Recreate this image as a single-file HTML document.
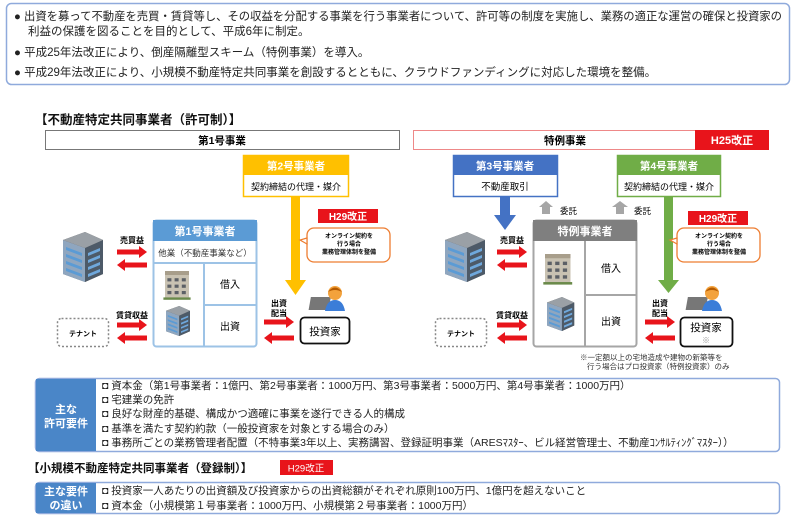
<!DOCTYPE html>
<html><head><meta charset="utf-8"><style>
html,body{margin:0;padding:0;background:#fff;width:800px;height:517px;overflow:hidden}
svg text{font-family:"Liberation Sans","Noto Sans CJK JP",sans-serif}
</style></head><body>
<svg width="800" height="517" viewBox="0 0 800 517" xmlns="http://www.w3.org/2000/svg">
<defs>
<g id="bld">
 <polygon points="0,8 22,0 40,8 40,42 22,50 0,42" fill="#555"/>
 <polygon points="0,8 22,16 22,50 0,42" fill="#8fa6bf"/>
 <polygon points="22,16 40,8 40,42 22,50" fill="#4d5a68"/>
 <polygon points="0,8 22,0 40,8 22,16" fill="#9aa0a6"/>
 <g fill="#5b9bd5"><polygon points="3,15 19,21 19,24 3,18"/><polygon points="3,22 19,28 19,31 3,25"/><polygon points="3,29 19,35 19,38 3,32"/><polygon points="3,36 19,42 19,45 3,39"/></g>
 <g fill="#6fa8dc"><polygon points="25,21 37,16 37,19 25,24"/><polygon points="25,28 37,23 37,26 25,31"/><polygon points="25,35 37,30 37,33 25,38"/><polygon points="25,42 37,37 37,40 25,45"/></g>
</g>
<g id="off">
 <rect x="0" y="4" width="30" height="30" fill="#c9c2b2"/><rect x="0" y="0" width="30" height="5" fill="#a89e8b"/>
 <g fill="#5c6066"><rect x="3" y="9" width="5" height="4"/><rect x="12" y="9" width="5" height="4"/><rect x="21" y="9" width="5" height="4"/><rect x="3" y="17" width="5" height="4"/><rect x="12" y="17" width="5" height="4"/><rect x="21" y="17" width="5" height="4"/><rect x="3" y="25" width="5" height="4"/><rect x="12" y="25" width="5" height="4"/><rect x="21" y="25" width="5" height="4"/></g>
 <rect x="-2" y="33" width="34" height="3" fill="#6a8a4a"/>
</g>
<g id="ra"><rect x="0" y="-2.5" width="22" height="5" fill="#e8141b"/><polygon points="22,-6 30,0 22,6" fill="#e8141b"/></g>
<g id="la"><rect x="8" y="-2.5" width="22" height="5" fill="#e8141b"/><polygon points="8,-6 0,0 8,6" fill="#e8141b"/></g>
<g id="person">
 <rect x="0" y="12" width="20" height="13" fill="#777" transform="skewX(-10)"/>
 <circle cx="22" cy="8" r="7" fill="#f3a23c"/><path d="M15,7 Q22,-2 29,7 Q22,3 15,7" fill="#b55a00"/>
 <path d="M12,26 Q14,15 22,15 Q30,15 32,26 Z" fill="#3b7dd8"/>
</g>
<g id="bubble"><rect x="0" y="0" width="83" height="34" rx="7" fill="#fff" stroke="#ed7d31" stroke-width="1.3"/></g>
</defs>

<!-- top box -->
<rect x="6.5" y="3.5" width="783" height="81" rx="5" fill="#fff" stroke="#8faadc" stroke-width="1.5"/>
<g font-size="11.5" fill="#222">
<text x="14" y="20" textLength="768" lengthAdjust="spacingAndGlyphs">● 出資を募って不動産を売買・賃貸等し、その収益を分配する事業を行う事業者について、許可等の制度を実施し、業務の適正な運営の確保と投資家の</text>
<text x="28" y="35">利益の保護を図ることを目的として、平成6年に制定。</text>
<text x="14" y="56">● 平成25年法改正により、倒産隔離型スキーム（特例事業）を導入。</text>
<text x="14" y="76">● 平成29年法改正により、小規模不動産特定共同事業を創設するとともに、クラウドファンディングに対応した環境を整備。</text>
</g>

<text x="35" y="124" font-size="12.5" font-weight="bold" fill="#111">【不動産特定共同事業者（許可制）】</text>
<rect x="45.5" y="130.5" width="354" height="19" fill="#fff" stroke="#777"/>
<text x="222" y="144" font-size="10.5" font-weight="bold" text-anchor="middle">第1号事業</text>
<rect x="413.5" y="130.5" width="355" height="19" fill="#fff" stroke="#e88"/>
<rect x="695" y="130" width="74" height="20" fill="#e8141b"/>
<text x="732" y="144" font-size="11" font-weight="bold" fill="#fff" text-anchor="middle">H25改正</text>
<text x="565" y="144" font-size="10.5" font-weight="bold" text-anchor="middle">特例事業</text>

<!-- LEFT -->
<rect x="291" y="195" width="9" height="85" fill="#ffc000"/><polygon points="285,280 306,280 295.5,295" fill="#ffc000"/>
<rect x="243.5" y="155.5" width="105" height="41" fill="#fff" stroke="#ffc000" stroke-width="1.5"/>
<rect x="243" y="155" width="106" height="20" fill="#ffc000"/>
<text x="296" y="169.5" font-size="10.5" font-weight="bold" fill="#fff" text-anchor="middle">第2号事業者</text>
<text x="296" y="190" font-size="9" text-anchor="middle">契約締結の代理・媒介</text>
<rect x="318" y="209" width="60" height="14" fill="#e8141b"/>
<text x="348" y="220" font-size="10" font-weight="bold" fill="#fff" text-anchor="middle">H29改正</text>
<use href="#bubble" x="307" y="228"/><polygon points="307,238 300,240 307,244" fill="#fff" stroke="#ed7d31" stroke-width="1.2"/>
<g font-size="6" font-weight="bold" text-anchor="middle"><text x="349" y="238">オンライン契約を</text><text x="349" y="246">行う場合</text><text x="349" y="254">業務管理体制を整備</text></g>

<rect x="153.5" y="220.5" width="103" height="126" rx="3" fill="#fff" stroke="#9dc3e6" stroke-width="2"/>
<rect x="153" y="220" width="104" height="21" fill="#5b9bd5"/>
<text x="205" y="235" font-size="11" font-weight="bold" fill="#fff" text-anchor="middle">第1号事業者</text>
<text x="205" y="256" font-size="8.5" text-anchor="middle" fill="#333">他業（不動産事業など）</text>
<line x1="153" y1="263" x2="257" y2="263" stroke="#9dc3e6" stroke-width="2"/>
<line x1="204" y1="263" x2="204" y2="347" stroke="#9dc3e6" stroke-width="2"/>
<line x1="204" y1="305" x2="257" y2="305" stroke="#9dc3e6" stroke-width="2"/>
<text x="230" y="288" font-size="10" text-anchor="middle">借入</text>
<text x="230" y="330" font-size="10" text-anchor="middle">出資</text>
<use href="#off" transform="translate(165,271) scale(0.8)"/>
<use href="#bld" transform="translate(166,306) scale(0.6)"/>
<use href="#bld" x="63" y="232"/>
<text x="132" y="243" font-size="8" font-weight="bold" text-anchor="middle">売買益</text>
<use href="#ra" x="117" y="252"/><use href="#la" x="117" y="265"/>
<text x="132" y="318" font-size="8" font-weight="bold" text-anchor="middle">賃貸収益</text>
<use href="#ra" x="117" y="325"/><use href="#la" x="117" y="338"/>
<rect x="57.5" y="318.5" width="51" height="28" rx="4" fill="none" stroke="#888" stroke-dasharray="2,2" stroke-width="1.5"/>
<text x="83" y="336" font-size="7" font-weight="bold" text-anchor="middle">テナント</text>
<g font-size="8" font-weight="bold" text-anchor="middle"><text x="279" y="306">出資</text><text x="279" y="316">配当</text></g>
<use href="#ra" x="264" y="322"/><use href="#la" x="264" y="338"/>
<use href="#person" x="313" y="285"/>
<rect x="300.5" y="317.5" width="49" height="26" rx="4" fill="#fff" stroke="#111" stroke-width="1.8"/>
<text x="325" y="335" font-size="10.5" text-anchor="middle">投資家</text>

<!-- RIGHT -->
<rect x="500" y="195" width="10" height="20" fill="#4472c4"/><polygon points="494,215 516,215 505,230" fill="#4472c4"/>
<rect x="453.5" y="155.5" width="104" height="41" fill="#fff" stroke="#4472c4" stroke-width="1.5"/>
<rect x="453" y="155" width="105" height="20" fill="#4472c4"/>
<text x="505" y="169.5" font-size="10.5" font-weight="bold" fill="#fff" text-anchor="middle">第3号事業者</text>
<text x="505" y="190" font-size="9.5" text-anchor="middle">不動産取引</text>
<rect x="664" y="195" width="9" height="85" fill="#70ad47"/><polygon points="658,280 679,280 668.5,293" fill="#70ad47"/>
<rect x="617.5" y="155.5" width="103" height="41" fill="#fff" stroke="#70ad47" stroke-width="1.5"/>
<rect x="617" y="155" width="104" height="20" fill="#70ad47"/>
<text x="669" y="169.5" font-size="10.5" font-weight="bold" fill="#fff" text-anchor="middle">第4号事業者</text>
<text x="669" y="190" font-size="9" text-anchor="middle">契約締結の代理・媒介</text>
<polygon points="546,201 553,207 550,207 550,214 542,214 542,207 539,207" fill="#a6a6a6"/>
<polygon points="620,201 628,207 624,207 624,214 616,214 616,207 612,207" fill="#a6a6a6"/>
<text x="560" y="214" font-size="8.5">委託</text><text x="634" y="214" font-size="8.5">委託</text>
<rect x="688" y="211" width="60" height="14" fill="#e8141b"/>
<text x="718" y="222" font-size="10" font-weight="bold" fill="#fff" text-anchor="middle">H29改正</text>
<use href="#bubble" x="677" y="228"/><polygon points="677,238 670,240 677,244" fill="#fff" stroke="#ed7d31" stroke-width="1.2"/>
<g font-size="6" font-weight="bold" text-anchor="middle"><text x="719" y="238">オンライン契約を</text><text x="719" y="246">行う場合</text><text x="719" y="254">業務管理体制を整備</text></g>

<rect x="533.5" y="220.5" width="103" height="126" rx="3" fill="#fff" stroke="#a6a6a6" stroke-width="2"/>
<rect x="533" y="220" width="104" height="21" fill="#7f7f7f"/>
<text x="585" y="235" font-size="11" font-weight="bold" fill="#fff" text-anchor="middle">特例事業者</text>
<line x1="585" y1="241" x2="585" y2="347" stroke="#a6a6a6" stroke-width="2"/>
<line x1="585" y1="295" x2="637" y2="295" stroke="#a6a6a6" stroke-width="2"/>
<text x="611" y="272" font-size="10" text-anchor="middle">借入</text>
<text x="611" y="325" font-size="10" text-anchor="middle">出資</text>
<use href="#off" transform="translate(545,254) scale(0.85)"/>
<use href="#bld" transform="translate(547,297) scale(0.68)"/>
<use href="#bld" x="445" y="232"/>
<text x="512" y="243" font-size="8" font-weight="bold" text-anchor="middle">売買益</text>
<use href="#ra" x="497" y="252"/><use href="#la" x="497" y="265"/>
<text x="512" y="318" font-size="8" font-weight="bold" text-anchor="middle">賃貸収益</text>
<use href="#ra" x="497" y="325"/><use href="#la" x="497" y="338"/>
<rect x="435.5" y="318.5" width="51" height="28" rx="4" fill="none" stroke="#888" stroke-dasharray="2,2" stroke-width="1.5"/>
<text x="461" y="336" font-size="7" font-weight="bold" text-anchor="middle">テナント</text>
<g font-size="8" font-weight="bold" text-anchor="middle"><text x="660" y="306">出資</text><text x="660" y="316">配当</text></g>
<use href="#ra" x="645" y="322"/><use href="#la" x="645" y="338"/>
<use href="#person" x="690" y="285"/>
<rect x="680.5" y="317.5" width="52" height="29" rx="4" fill="#fff" stroke="#111" stroke-width="1.8"/>
<text x="706" y="331" font-size="10.5" text-anchor="middle">投資家</text>
<text x="706" y="343" font-size="8" fill="#999" text-anchor="middle">※</text>
<g font-size="7.5" fill="#333"><text x="580" y="360">※一定額以上の宅地造成や建物の新築等を</text><text x="587" y="369">行う場合はプロ投資家（特例投資家）のみ</text></g>

<!-- bottom -->
<rect x="35.5" y="378.5" width="744" height="73" rx="4" fill="#fff" stroke="#8faadc" stroke-width="1.5"/>
<rect x="36" y="379" width="60" height="72" fill="#4a86c8"/>
<g font-size="11" font-weight="bold" fill="#fff" text-anchor="middle"><text x="66" y="413">主な</text><text x="66" y="427">許可要件</text></g>
<g font-size="10.5" fill="#222">
<text x="102" y="389">◘ 資本金（第1号事業者：1億円、第2号事業者：1000万円、第3号事業者：5000万円、第4号事業者：1000万円）</text>
<text x="102" y="403">◘ 宅建業の免許</text>
<text x="102" y="417">◘ 良好な財産的基礎、構成かつ適確に事業を遂行できる人的構成</text>
<text x="102" y="432">◘ 基準を満たす契約約款（一般投資家を対象とする場合のみ）</text>
<text x="102" y="446">◘ 事務所ごとの業務管理者配置（不特事業3年以上、実務講習、登録証明事業（ARESﾏｽﾀｰ、ビル経営管理士、不動産ｺﾝｻﾙﾃｨﾝｸﾞﾏｽﾀｰ））</text>
</g>
<text x="28" y="472" font-size="11.5" font-weight="bold" fill="#111">【小規模不動産特定共同事業者（登録制）】</text>
<rect x="280" y="460" width="53" height="15" fill="#e8141b"/>
<text x="306" y="471.5" font-size="9.5" fill="#fff" text-anchor="middle">H29改正</text>
<rect x="35.5" y="482.5" width="744" height="31" rx="4" fill="#fff" stroke="#8faadc" stroke-width="1.5"/>
<rect x="36" y="483" width="60" height="30" fill="#4a86c8"/>
<g font-size="11" font-weight="bold" fill="#fff" text-anchor="middle"><text x="66" y="495">主な要件</text><text x="66" y="509">の違い</text></g>
<g font-size="10.5" fill="#222">
<text x="102" y="494">◘ 投資家一人あたりの出資額及び投資家からの出資総額がそれぞれ原則100万円、1億円を超えないこと</text>
<text x="102" y="509">◘ 資本金（小規模第１号事業者：1000万円、小規模第２号事業者：1000万円）</text>
</g>
</svg>
</body></html>
